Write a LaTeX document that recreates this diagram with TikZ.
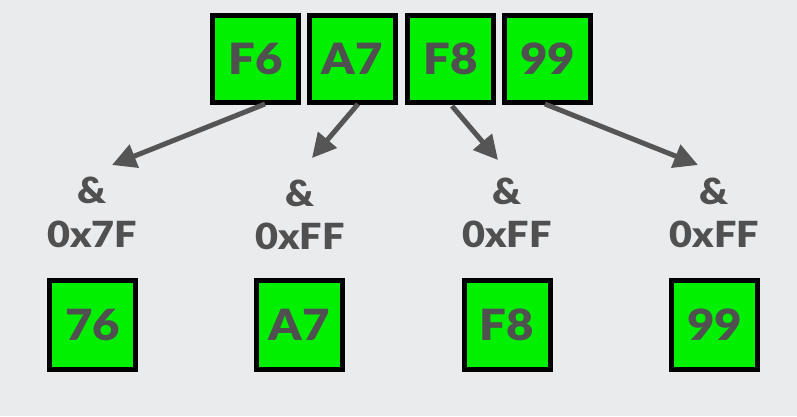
\documentclass[tikz,border=0pt]{standalone}
\usepackage{fontspec}
\setmainfont{Lato}[BoldFont={Lato Black}, BoldFeatures={FakeStretch=1.1}]
\usetikzlibrary{arrows.meta}
\definecolor{bg}{HTML}{EAEBED}
\definecolor{boxgreen}{HTML}{00F000}
\definecolor{txt}{HTML}{505050}
\definecolor{arr}{HTML}{555555}
\tikzset{
  bytebox/.style={draw=black, line width=5pt, fill=boxgreen, minimum width=86pt,
    minimum height=87pt, inner sep=0pt, text=txt, font=\bfseries\fontsize{43}{43}\selectfont, text depth=0pt},
  lowbox/.style={bytebox, minimum height=89pt},
  masklbl/.style={text=txt, font=\bfseries\fontsize{36}{36}\selectfont, inner sep=0pt, text depth=0pt},
  conn/.style={draw=arr, line width=5pt, -{Triangle[length=24pt,width=24pt]}}
}
\begin{document}
\begin{tikzpicture}[x=1pt,y=-1pt]
\fill[bg] (0,0) rectangle (797,416);
\useasboundingbox (0,0) rectangle (797,416);
% top bytes
\node[bytebox] (f6) at (255.5,59) {F6};
\node[bytebox] (a7) at (352.5,59) {A7};
\node[bytebox] (f8) at (450.5,59) {F8};
\node[bytebox] (n99) at (547.5,59) {99};
% masks
\node[masklbl] (amp1) at (92,190) {\&};
\node[masklbl] (mask1) at (92,234) {0x7F};
\node[masklbl] (amp2) at (300,193) {\&};
\node[masklbl] (mask2) at (300,236) {0xFF};
\node[masklbl] (amp3) at (507,191) {\&};
\node[masklbl] (mask3) at (507,234) {0xFF};
\node[masklbl] (amp4) at (714.5,191) {\&};
\node[masklbl] (mask4) at (714.5,234) {0xFF};
% results
\node[lowbox] (r1) at (92.5,325) {76};
\node[lowbox] (r2) at (299.5,325) {A7};
\node[lowbox] (r3) at (507,325) {F8};
\node[lowbox] (r4) at (714.5,325) {99};
% arrow tips
\coordinate (t1) at (112,165);
\coordinate (t2) at (312,158);
\coordinate (t3) at (498,160);
\coordinate (t4) at (698,165);
\draw[conn] ([xshift=9.5pt,yshift=1pt]f6.south) -- (t1);
\draw[conn] ([xshift=5.5pt,yshift=1pt]a7.south) -- (t2);
\draw[conn] ([xshift=1.5pt,yshift=-1pt]f8.south) -- (t3);
\draw[conn] ([xshift=-2.5pt,yshift=1pt]n99.south) -- (t4);
\end{tikzpicture}
\end{document}
